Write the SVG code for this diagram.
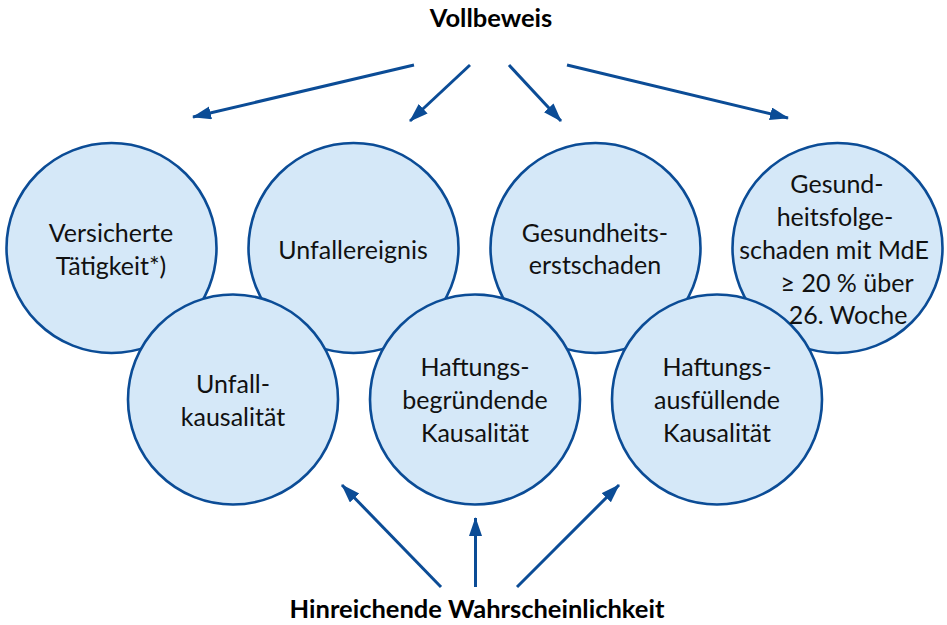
<svg xmlns="http://www.w3.org/2000/svg" width="947" height="625" viewBox="0 0 947 625">
<defs>
<marker id="ah" markerUnits="userSpaceOnUse" markerWidth="20" markerHeight="14" refX="18" refY="6.5" orient="auto">
<path d="M0,0 L19,6.5 L0,13 z" fill="#0b4c96"/>
</marker>
<style>
.c{fill:#d5e8f8;stroke:#0b4c96;stroke-width:2.6}
.t{font-family:Lato,"Open Sans","Liberation Sans",sans-serif;font-size:25px;fill:#111;text-anchor:middle}
.b{font-family:Lato,"Open Sans","Liberation Sans",sans-serif;font-size:25.5px;font-weight:bold;fill:#000;text-anchor:middle}
.a{stroke:#0b4c96;stroke-width:3;fill:none;marker-end:url(#ah)}
</style>
</defs>
<rect width="947" height="625" fill="#fff"/>
<g id="vollbeweis"><text class="b" x="491" y="27">Vollbeweis</text></g>
<g id="hinreichende"><text class="b" x="477" y="618">Hinreichende Wahrscheinlichkeit</text></g>
<g id="versicherte"><circle class="c" cx="111.5" cy="248" r="105"/></g>
<g id="unfallereignis"><circle class="c" cx="353.5" cy="248" r="105"/></g>
<g id="gesundheitserstschaden"><circle class="c" cx="595.5" cy="248" r="105"/></g>
<g id="gesundheitsfolgeschaden"><circle class="c" cx="837.5" cy="248" r="105"/></g>
<g id="unfallkausalitaet"><circle class="c" cx="233" cy="399.5" r="105"/></g>
<g id="haftungsbegruendende"><circle class="c" cx="475" cy="399.5" r="105"/></g>
<g id="haftungsausfuellende"><circle class="c" cx="717" cy="399.5" r="105"/></g>
<g id="labels">
<text class="t" x="111" y="242">Versicherte</text>
<text class="t" x="111" y="275">Tätigkeit*)</text>
<text class="t" x="353" y="259">Unfallereignis</text>
<text class="t" x="595" y="242">Gesundheits-</text>
<text class="t" x="595" y="274">erstschaden</text>
<text class="t" x="837" y="193">Gesund-</text>
<text class="t" x="835" y="226">heitsfolge-</text>
<text class="t" x="834" y="259">schaden mit MdE</text>
<text class="t" x="847" y="292">≥ 20 % über</text>
<text class="t" x="848" y="324">26. Woche</text>
<text class="t" x="233" y="393">Unfall-</text>
<text class="t" x="233" y="426">kausalität</text>
<text class="t" x="475" y="376">Haftungs-</text>
<text class="t" x="475" y="409">begründende</text>
<text class="t" x="475" y="442">Kausalität</text>
<text class="t" x="717" y="376">Haftungs-</text>
<text class="t" x="717" y="409">ausfüllende</text>
<text class="t" x="717" y="442">Kausalität</text>
</g>
<g id="connectors">
<line class="a" x1="414" y1="65" x2="193" y2="117"/>
<line class="a" x1="470" y1="65" x2="410" y2="121"/>
<line class="a" x1="509" y1="65" x2="561" y2="121"/>
<line class="a" x1="567" y1="65" x2="788" y2="118"/>
<line class="a" x1="441" y1="587" x2="342" y2="485"/>
<line class="a" x1="475.5" y1="587" x2="475.5" y2="518"/>
<line class="a" x1="517" y1="587" x2="619" y2="485"/>
</g>
</svg>
